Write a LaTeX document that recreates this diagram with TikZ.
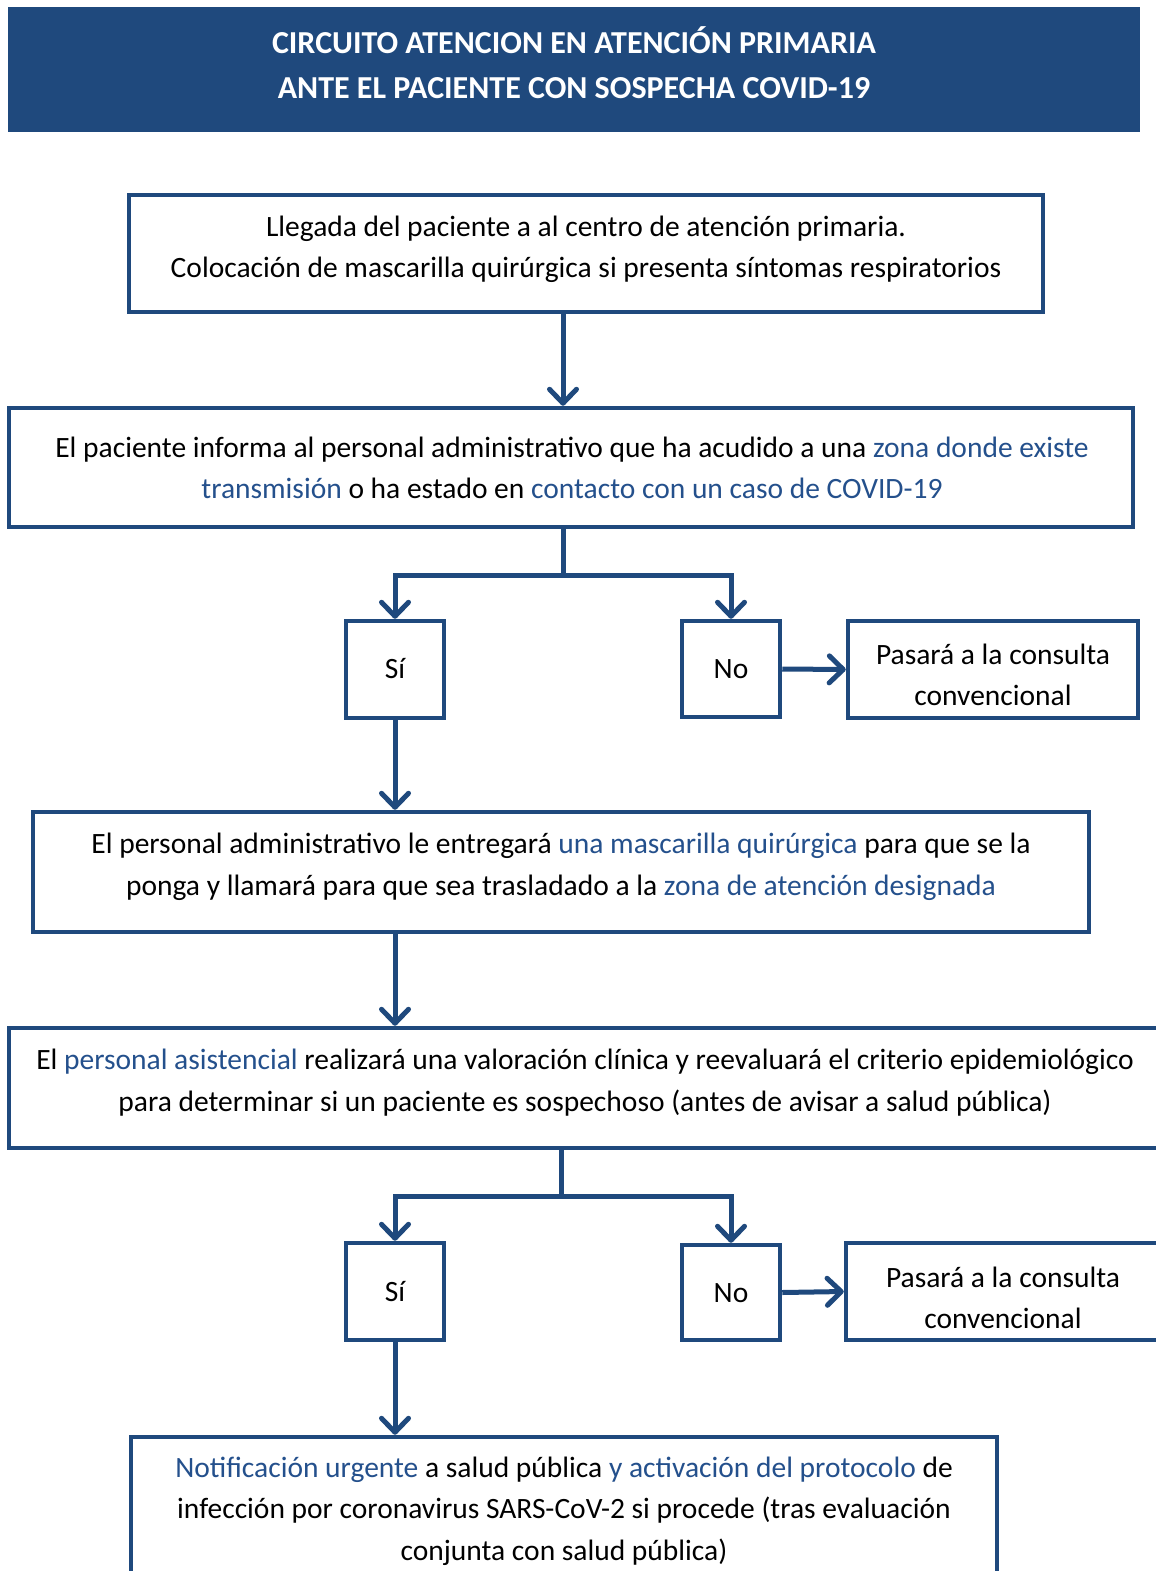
\documentclass[tikz,border=0pt]{standalone}
\usepackage{fontspec}
\setmainfont{Carlito}
\usetikzlibrary{arrows.meta}
\definecolor{cb}{HTML}{1F497D}
\definecolor{ct}{HTML}{24508C}
\newcommand\bluetxt[1]{\textcolor{ct}{#1}}
\tikzset{
  box/.style={draw=cb, line width=4.5pt, inner sep=0pt, fill=white},
  txt/.style={align=center, inner sep=0pt, font=\fontsize{29.5}{41.5}\selectfont},
  ln/.style={draw=cb, line width=5pt},
  arr/.style={ln, -{Straight Barb[length=14pt,width=27pt,round]}},
}
\begin{document}
\begin{tikzpicture}[x=1pt,y=-1pt]
\useasboundingbox (0,0) rectangle (1156,1571);
\clip (0,0) rectangle (1156,1571);
% title
\node[fill=cb, inner sep=0pt, minimum width=1132pt, minimum height=125pt] (title) at (574,69.5) {};
\node[txt, text=white, font=\fontsize{32}{45}\selectfont\bfseries] (tt) at (574,63)
  {CIRCUITO ATENCION EN ATENCIÓN PRIMARIA\\ANTE EL PACIENTE CON SOSPECHA COVID-19};
% boxes
\node[box, minimum width=914pt, minimum height=117pt] (b1) at (586,253.5) {};
\node[txt] (t1) at (586,249.5) {Llegada del paciente a al centro de atención primaria.\\Colocación de mascarilla quirúrgica si presenta síntomas respiratorios};
\node[box, minimum width=1124pt, minimum height=119pt] (b2) at (571,467.5) {};
\node[txt] (t2) at (572,468) {El paciente informa al personal administrativo que ha acudido a una \bluetxt{zona donde existe}\\\bluetxt{transmisión} o ha estado en \bluetxt{contacto con un caso de COVID-19}};
\node[box, minimum width=98pt, minimum height=97pt] (si1) at (395,669.5) {};
\node[txt] (tsi1) at (395,669) {Sí};
\node[box, minimum width=98pt, minimum height=96pt] (no1) at (731,669) {};
\node[txt] (tno1) at (731,669) {No};
\node[box, minimum width=290pt, minimum height=97pt] (pa1) at (993,669.5) {};
\node[txt] (tpa1) at (993,675) {Pasará a la consulta\\convencional};
\node[box, minimum width=1056pt, minimum height=120pt] (b3) at (561,872) {};
\node[txt] (t3) at (561,867) {El personal administrativo le entregará \bluetxt{una mascarilla quirúrgica} para que se la\\ponga y llamará para que sea trasladado a la \bluetxt{zona de atención designada}};
\node[box, minimum width=1152pt, minimum height=120pt] (b4) at (585,1088) {};
\node[txt] (t4) at (585,1082.5) {El \bluetxt{personal asistencial} realizará una valoración clínica y reevaluará el criterio epidemiológico\\para determinar si un paciente es sospechoso (antes de avisar a salud pública)};
\node[box, minimum width=98pt, minimum height=97pt] (si2) at (395,1291.5) {};
\node[txt] (tsi2) at (395,1292) {Sí};
\node[box, minimum width=98pt, minimum height=95pt] (no2) at (731,1292.5) {};
\node[txt] (tno2) at (731,1293) {No};
\node[box, minimum width=314pt, minimum height=97pt] (pa2) at (1003,1291.5) {};
\node[txt] (tpa2) at (1003,1298) {Pasará a la consulta\\convencional};
\node[box, minimum width=866pt, minimum height=145pt] (b5) at (564,1509.5) {};
\node[txt] (t5) at (564,1511) {\bluetxt{Notificación urgente} a salud pública \bluetxt{y activación del protocolo} de\\infección por coronavirus SARS-CoV-2 si procede (tras evaluación\\conjunta con salud pública)};
% connectors
\coordinate (c1) at (563,0);
\coordinate (j1) at (563,575);
\coordinate (j2) at (561,1196);
\draw[arr] (b1.south -| c1) -- (b2.north -| c1);
\draw[ln] (b2.south -| j1) -- (j1);
\draw[arr] (j1) -| (si1.north);
\draw[arr] (j1) -| (no1.north);
\draw[arr] (no1.east) -- (pa1.west);
\draw[arr] (si1.south) -- (b3.north -| si1);
\draw[arr] (b3.south -| si1) -- (b4.north -| si1);
\draw[ln] (b4.south -| j2) -- (j2);
\draw[arr] (j2) -| (si2.north);
\draw[arr] (j2) -| (no2.north);
\draw[arr] (no2.east) -- (pa2.west);
\draw[arr] (si2.south) -- (b5.north -| si2);
\end{tikzpicture}
\end{document}
